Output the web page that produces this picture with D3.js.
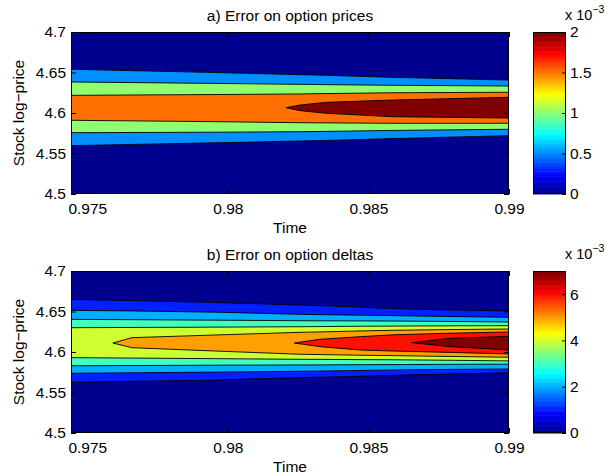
<!DOCTYPE html>
<html>
<head>
<meta charset="utf-8">
<script src="https://cdn.jsdelivr.net/npm/d3@7"></script>
<style>
  body { margin: 0; background: #fff; }
  text { font-family: "Liberation Sans", Arial, Helvetica, sans-serif; fill: #000; }
</style>
</head>
<body>
<script>
// axis ticks
var timeTicks = [0.975, 0.98, 0.985, 0.99];
var priceTicks = [4.5, 4.55, 4.6, 4.65, 4.7];
var timeDomain = [0.97442, 0.99];
var priceDomain = [4.5, 4.7];

// a) error on option prices (x 1e-3), contour bands
var pricesLevels = [0.5, 1.0, 1.5, 2.0];
var pricesTimes = [0.97442, 0.97955, 0.98257, 0.98352, 0.98587, 0.99];
var pricesUpper = [
  [4.654, 4.650, 4.6473, 4.6465, 4.644, 4.6407],
  [4.6383, 4.6365, 4.6354, 4.635, 4.6342, 4.6333],
  [4.6218, 4.6228, 4.6235, 4.624, 4.625, 4.6256],
  [null, null, 4.6099, 4.6132, 4.616, 4.6194]
];
var pricesLower = [
  [4.5597, 4.5632, 4.5654, 4.5662, 4.5685, 4.572],
  [4.5757, 4.5763, 4.5769, 4.5773, 4.5785, 4.5799],
  [4.591, 4.5893, 4.588, 4.5878, 4.5873, 4.5873],
  [null, null, 4.6029, 4.5996, 4.5954, 4.5938]
];
var pricesTips = [null, null, null, [0.98207, 4.6065]];
var pricesCbTicks = [0, 0.5, 1, 1.5, 2];

// b) error on option deltas (x 1e-3)
var deltasLevels = [1, 2, 3, 4, 5, 6, 7];
var deltasTimes = [0.97442, 0.97659, 0.97955, 0.98257, 0.98328, 0.98470, 0.98587, 0.98790, 0.99];
var deltasUpper = [
  [4.665, 4.6635, 4.6612, 4.658, 4.6572, 4.6555, 4.6535, 4.652, 4.6506],
  [4.6514, 4.6507, 4.6492, 4.6465, 4.6461, 4.6455, 4.6449, 4.6438, 4.6428],
  [4.6403, 4.6399, 4.6393, 4.6386, 4.6385, 4.6384, 4.6382, 4.6377, 4.637],
  [4.630, 4.6303, 4.6307, 4.6312, 4.6314, 4.6318, 4.632, 4.6323, 4.6325],
  [null, 4.6177, 4.621, 4.6243, 4.6248, 4.626, 4.6268, 4.6277, 4.6284],
  [null, null, null, null, 4.6157, 4.6189, 4.6212, 4.6232, 4.6247],
  [null, null, null, null, null, null, null, 4.6169, 4.6194]
];
var deltasLower = [
  [4.5626, 4.5638, 4.5655, 4.5683, 4.5689, 4.57, 4.5712, 4.5728, 4.5744],
  [4.5737, 4.5743, 4.5752, 4.5762, 4.5765, 4.5772, 4.5778, 4.5785, 4.579],
  [4.583, 4.5833, 4.5837, 4.584, 4.5841, 4.5843, 4.5845, 4.5848, 4.585],
  [4.593, 4.5925, 4.5918, 4.591, 4.5909, 4.5906, 4.5904, 4.5898, 4.589],
  [null, 4.6053, 4.6012, 4.5972, 4.5968, 4.596, 4.5955, 4.5945, 4.5935],
  [null, null, null, null, 4.6066, 4.6025, 4.6012, 4.5995, 4.5975],
  [null, null, null, null, null, null, null, 4.6066, 4.6025]
];
var deltasTips = [null, null, null, null, [0.97591, 4.6111], [0.98236, 4.6111], [0.98654, 4.6115]];
var deltasCbTicks = [0, 2, 4, 6];

var width = 607, height = 476;
var fontSize = 15.5;
var plotLeft = 71, plotRight = 509, plotH = 162;
var cbLeft = 533, cbRight = 566;

var svg = d3.select("body").append("svg")
    .attr("width", width)
    .attr("height", height);

// MATLAB style jet(m)
function jetMap(m) {
  var n = Math.ceil(m / 4), u = [], i;
  for (i = 1; i <= n; i++) u.push(i / n);
  for (i = 1; i < n; i++) u.push(1);
  for (i = n; i >= 1; i--) u.push(i / n);
  var g0 = Math.ceil(n / 2) - (m % 4 == 1 ? 1 : 0);
  var cols = [];
  for (var row = 1; row <= m; row++) {
    var ch = function(off) {
      var k = row - g0 - off;
      return (k >= 1 && k <= u.length) ? u[k - 1] : 0;
    };
    cols.push(d3.rgb(ch(n) * 255, ch(0) * 255, ch(-n) * 255).toString());
  }
  return cols;
}
var jet = jetMap(64);

function levelColor(v, cmax) {
  var idx = Math.min(63, Math.floor(v / cmax * 64));
  return jet[idx];
}

function drawPanel(top, id, title, levels, times, upper, lower, tips, cmax, cbTicks) {
  var x = d3.scaleLinear().domain(timeDomain).range([plotLeft, plotRight]);
  var y = d3.scaleLinear().domain(priceDomain).range([top + plotH, top]);

  svg.append("clipPath").attr("id", "clip" + id)
    .append("rect")
    .attr("x", plotLeft).attr("y", top)
    .attr("width", plotRight - plotLeft).attr("height", plotH);

  var g = svg.append("g").attr("clip-path", "url(#clip" + id + ")");

  // everything below the first level
  g.append("rect")
    .attr("x", plotLeft).attr("y", top)
    .attr("width", plotRight - plotLeft).attr("height", plotH)
    .attr("fill", levelColor(0, cmax));

  var line = d3.line()
    .x(function(d) { return x(d[0]); })
    .y(function(d) { return y(d[1]); });

  levels.forEach(function(lev, i) {
    var up = [], lo = [];
    times.forEach(function(t, j) {
      if (upper[i][j] != null) up.push([t, upper[i][j]]);
      if (lower[i][j] != null) lo.push([t, lower[i][j]]);
    });
    var tip = tips[i];
    var poly = (tip ? [tip] : []).concat(up, lo.slice().reverse());

    g.append("path")
      .attr("d", line(poly) + "Z")
      .attr("fill", levelColor(lev, cmax));

    if (tip) {
      g.append("path")
        .attr("d", line(lo.slice().reverse().concat([tip], up)))
        .attr("fill", "none").attr("stroke", "#000").attr("stroke-width", 0.9)
        .attr("stroke-linejoin", "miter").attr("stroke-miterlimit", 20);
    } else {
      [up, lo].forEach(function(pts) {
        g.append("path")
          .attr("d", line(pts))
          .attr("fill", "none").attr("stroke", "#000").attr("stroke-width", 0.9);
      });
    }
  });

  // axes, ticks pointing inwards
  var ax = svg.append("g");
  ax.append("g").attr("transform", "translate(0," + (top + plotH) + ")")
    .call(d3.axisBottom(x).tickValues(timeTicks).tickSize(-5).tickPadding(9)
      .tickFormat(function(d) { return String(d); }));
  ax.append("g").attr("transform", "translate(0," + top + ")")
    .call(d3.axisTop(x).tickValues(timeTicks).tickSize(-5).tickFormat(""));
  ax.append("g").attr("transform", "translate(" + plotLeft + ",0)")
    .call(d3.axisLeft(y).tickValues(priceTicks).tickSize(-5).tickPadding(5)
      .tickFormat(function(d) { return String(d); }));
  ax.append("g").attr("transform", "translate(" + plotRight + ",0)")
    .call(d3.axisRight(y).tickValues(priceTicks).tickSize(-5).tickFormat(""));
  ax.selectAll(".domain").remove();
  ax.selectAll("text").attr("font-size", fontSize).attr("font-family", null);
  ax.selectAll("line").attr("stroke", "#000");

  svg.append("rect")
    .attr("x", plotLeft + 0.5).attr("y", top + 0.5)
    .attr("width", plotRight - plotLeft - 1).attr("height", plotH - 1)
    .attr("fill", "none").attr("stroke", "#000");

  svg.append("text")
    .attr("x", (plotLeft + plotRight) / 2).attr("y", top - 11)
    .attr("text-anchor", "middle").attr("font-size", fontSize)
    .text(title);

  svg.append("text")
    .attr("x", (plotLeft + plotRight) / 2).attr("y", top + plotH + 39)
    .attr("text-anchor", "middle").attr("font-size", fontSize)
    .text("Time");

  svg.append("text")
    .attr("transform", "translate(24," + (top + plotH / 2) + ") rotate(-90)")
    .attr("text-anchor", "middle").attr("font-size", fontSize)
    .text("Stock log\u2212price");

  // colorbar
  var cy = d3.scaleLinear().domain([0, cmax]).range([top + plotH, top]);
  var cb = svg.append("g");
  cb.selectAll("rect")
    .data(jet)
    .enter()
    .append("rect")
    .attr("x", cbLeft)
    .attr("y", function(d, i) { return cy(cmax * (i + 1) / 64); })
    .attr("width", cbRight - cbLeft)
    .attr("height", function(d, i) { return cy(cmax * i / 64) - cy(cmax * (i + 1) / 64) + 0.5; })
    .attr("fill", function(d) { return d; });

  var cax = svg.append("g").attr("transform", "translate(" + cbRight + ",0)")
    .call(d3.axisRight(cy).tickValues(cbTicks).tickSize(-4).tickPadding(4)
      .tickFormat(function(d) { return String(d); }));
  cax.select(".domain").remove();
  cax.selectAll("text").attr("font-size", fontSize).attr("font-family", null);
  cax.selectAll("line").attr("stroke", "#000");

  svg.append("rect")
    .attr("x", cbLeft + 0.5).attr("y", top + 0.5)
    .attr("width", cbRight - cbLeft - 1).attr("height", plotH - 1)
    .attr("fill", "none").attr("stroke", "#000");

  // exponent label above the colorbar
  var mult = svg.append("text")
    .attr("x", 565).attr("y", top - 12)
    .attr("font-size", 14.5);
  mult.append("tspan").text("x 10");
  mult.append("tspan").attr("dy", -7).attr("font-size", 10.5).text("\u22123");
}

drawPanel(32, "a", "a) Error on option prices", pricesLevels, pricesTimes, pricesUpper, pricesLower, pricesTips, 2, pricesCbTicks);
drawPanel(271, "b", "b) Error on option deltas", deltasLevels, deltasTimes, deltasUpper, deltasLower, deltasTips, 7, deltasCbTicks);
</script>
</body>
</html>
